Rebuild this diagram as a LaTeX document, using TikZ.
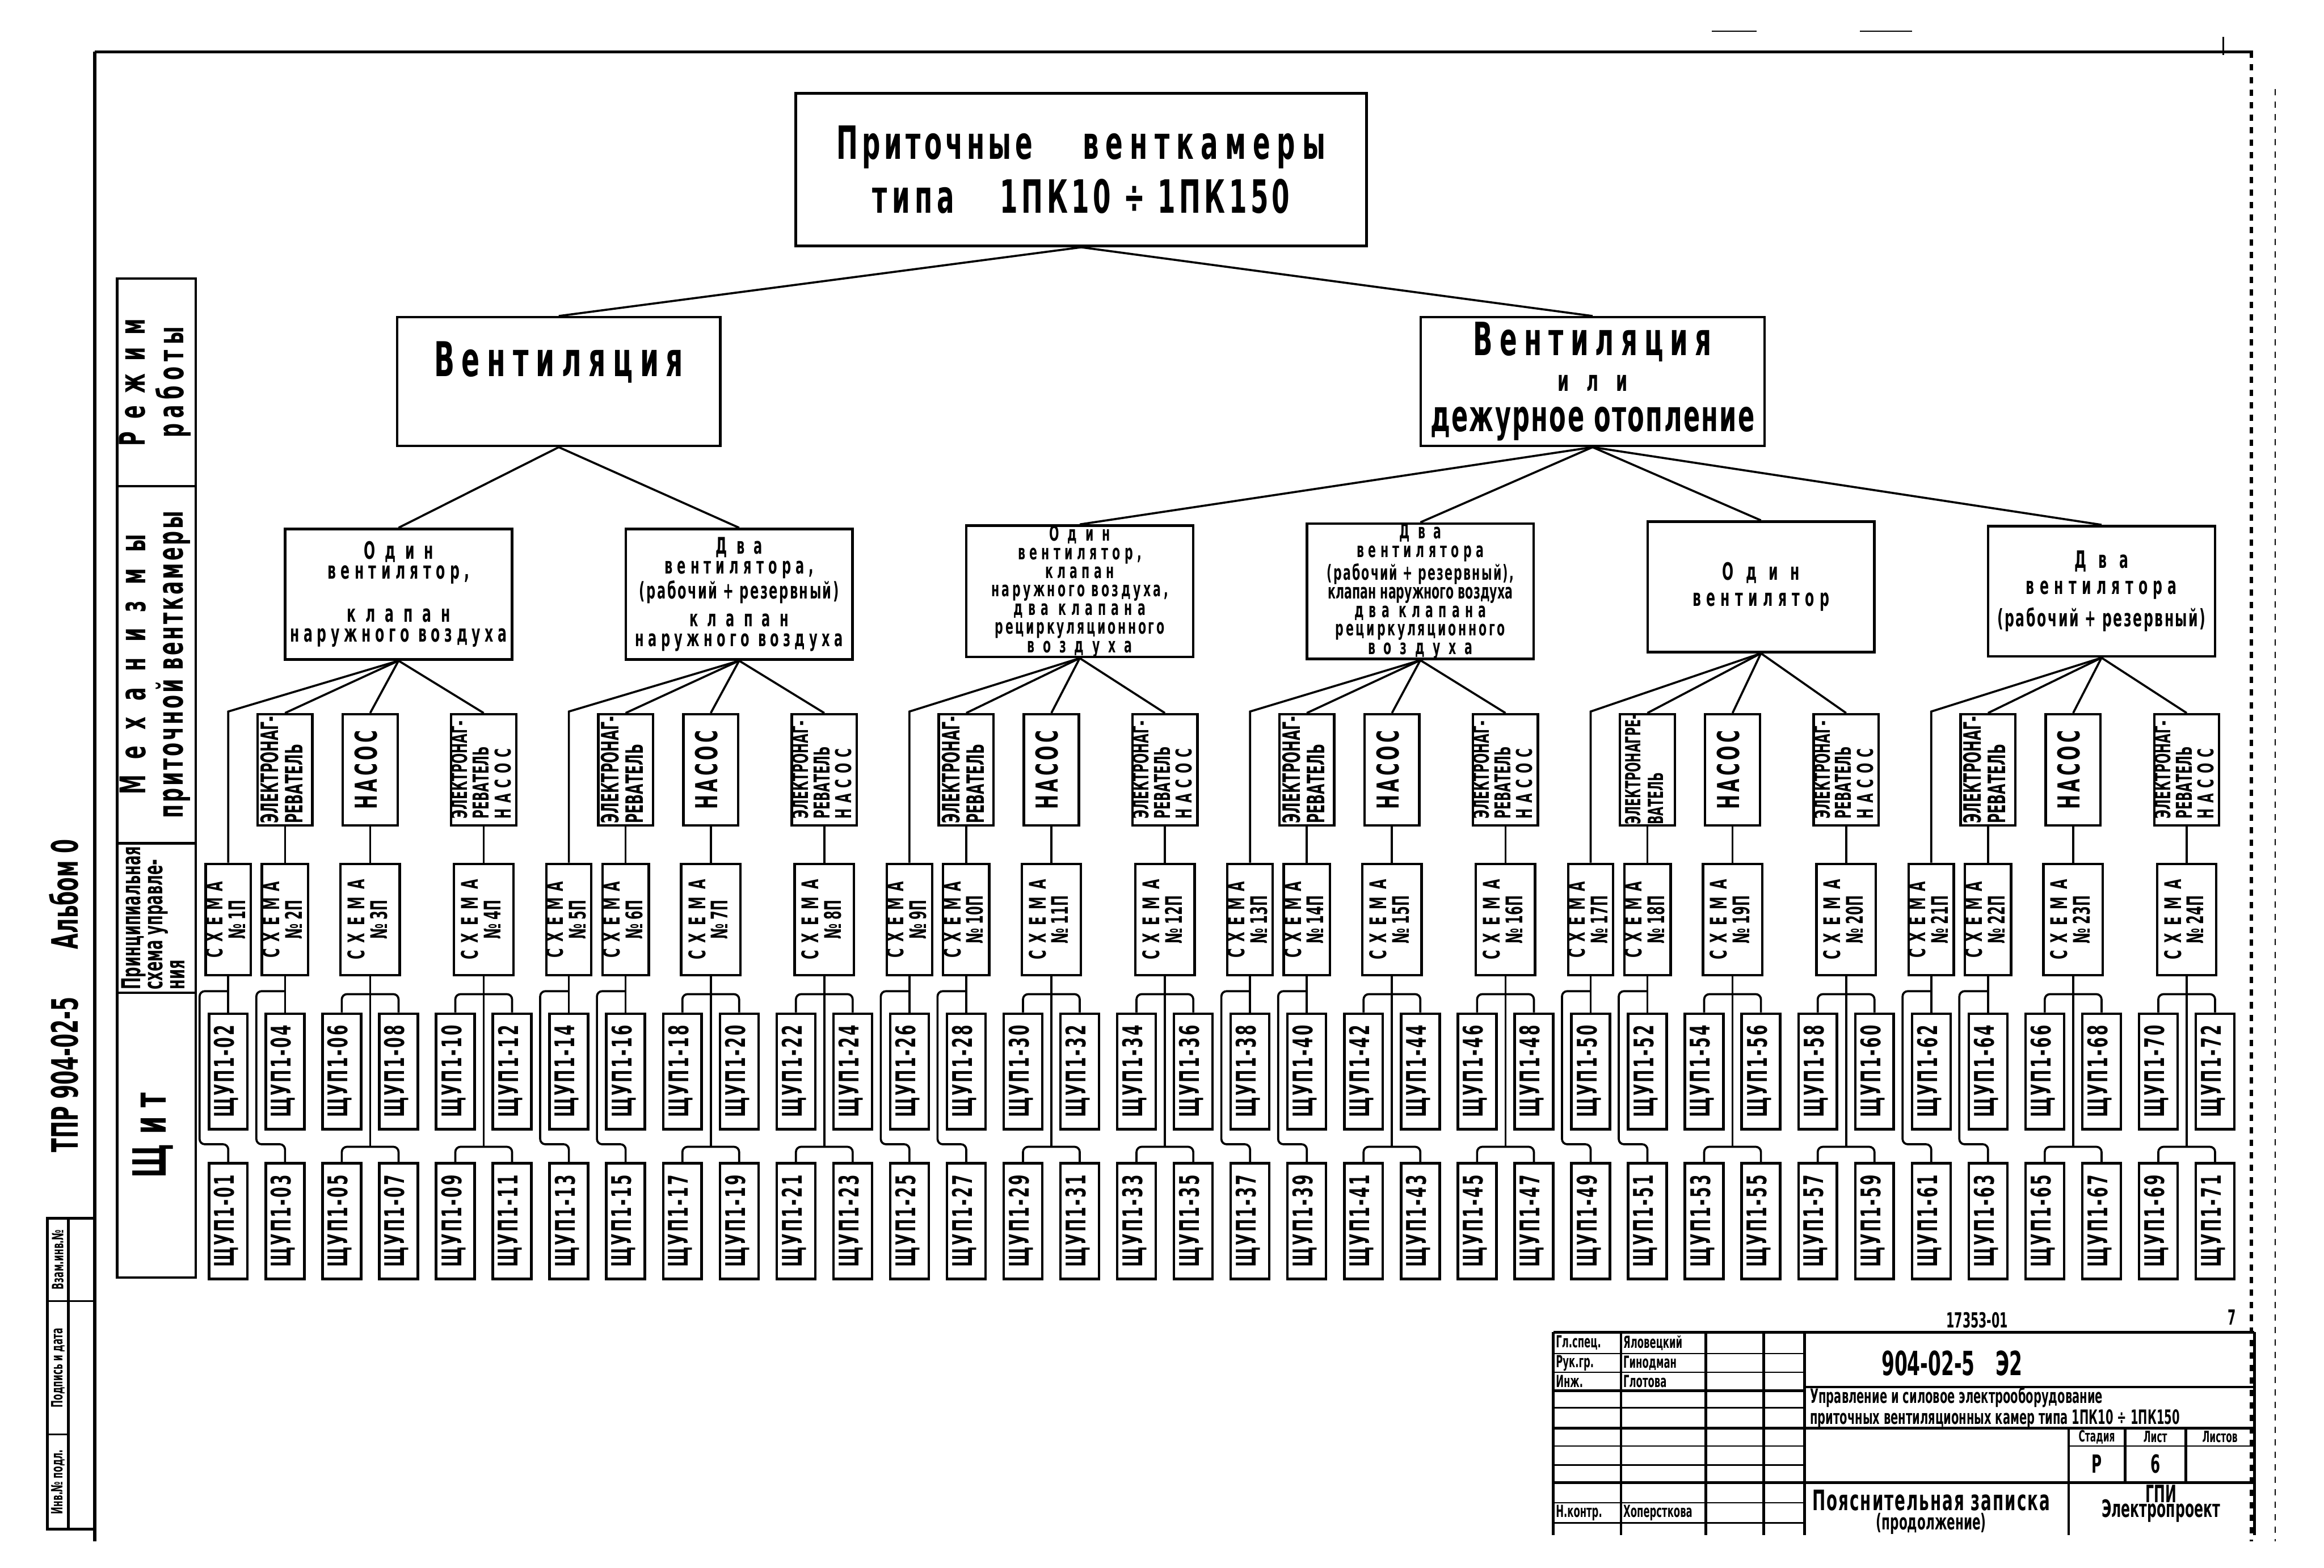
\documentclass[tikz,border=0pt]{standalone}
\usepackage{fontspec}
\setmainfont{DejaVu Sans}
\newfontfamily\drw[FakeStretch=0.56]{DejaVu Sans}
\usetikzlibrary{positioning, calc}

\newcommand\dfont[2]{\drw\bfseries\fontsize{#1}{#2}\selectfont}
\newcommand\lsp[2]{{\addfontfeature{LetterSpace=#1}#2}}
\newcommand\vtext[2][c]{\rotatebox{90}{\begin{tabular}{@{}#1@{}}#2\end{tabular}}}
\newcommand\two[1]{\ifnum#1<10 0\fi#1}

\begin{document}
\begin{tikzpicture}[x=0.025cm, y=-0.025cm,
  box/.style={draw, line width=1.2pt, inner sep=0pt, align=center},
  titlebox/.style={box, minimum width=9.625cm, minimum height=2.575cm, font=\dfont{22}{25.6}},
  modebox/.style={box, minimum height=2.17cm, font=\dfont{21}{15}},
  setbox/.style={box, minimum width=3.825cm, minimum height=2.2cm, font=\dfont{11.5}{9.6}},
  unitbox/.style={box, minimum width=0.925cm, minimum height=1.875cm, font=\dfont{11.5}{11}},
  schbox/.style={box, minimum width=0.7cm, minimum height=1.875cm, font=\dfont{11}{9}},
  shubox/.style={box, minimum width=0.65cm, minimum height=1.95cm,
                 font=\dfont{13}{13}\addfontfeature{LetterSpace=6}},
  hdrbox/.style={box, minimum width=1.325cm},
  wire/.style={line width=1pt},
  bus/.style={wire, rounded corners=2.5pt},
  frame/.style={line width=1.5pt},
  cell/.style={line width=0.7pt},
  cellb/.style={line width=1.3pt},
  txt/.style={inner sep=0pt, font=\dfont{#1}{#1}},
]
\useasboundingbox (0,0) rectangle (1568,1058);

% --- sheet frame ---
\draw[frame] (64,35) -- (1520,35);
\draw[frame] (64,35) -- (64,1040);
\draw[frame, dashed] (1519,35) -- (1519,1040);
\draw[cell, dashed] (1535,60) -- (1535,1040);
\draw[cell] (1500,25) -- (1500,37);
\draw[cell] (1155,21) -- (1185,21);
\draw[cell] (1255,21) -- (1290,21);

% --- binding strip ---
\node[txt=17.5] (album) at (43,672) {\rotatebox{90}{ТПР 904-02-5\hspace{23pt}Альбом 0}};
\draw[cellb] (32,822) rectangle (64,1032);
\draw[cellb] (46,822) -- (46,1032);
\draw[cell] (32,878) -- (64,878);
\draw[cell] (32,968) -- (46,968);
\node[txt=7.5] (zam) at (39,850) {\rotatebox{90}{Взам.инв.№}};
\node[txt=7.5] (podp) at (39,923) {\rotatebox{90}{Подпись и дата}};
\node[txt=7.5] (inv) at (39,1000) {\rotatebox{90}{Инв.№ подл.}};

% --- row headers ---
\node[hdrbox, minimum height=3.5cm, font=\dfont{17}{16.7}] (h1) at (105.5,258)
  {\vtext{\lsp{35}{Режим}\\\lsp{15}{работы}}};
\node[hdrbox, minimum height=6.025cm, font=\dfont{17}{16.7}] (h2) at (105.5,448.5)
  {\vtext{\lsp{45}{Механизмы}\\\lsp{6}{приточной венткамеры}}};
\node[hdrbox, minimum height=2.525cm, font=\dfont{12.5}{10.5}] (h3) at (105.5,619.5)
  {\vtext[l]{Принципиальная\\схема управле-\\ния}};
\node[hdrbox, minimum height=4.8cm, font=\dfont{22}{22}] (h4) at (105.5,766)
  {\vtext{\lsp{20}{Щит}}};

% --- level 1 and 2 ---
\node[titlebox] (top) at (729.5,114.5)
  {\lsp{8}{Приточные}\hspace{24pt}\lsp{15}{венткамеры}\\
   \lsp{10}{типа}\hspace{22pt}\lsp{8}{1ПК10 ÷ 1ПК150}};
\node[modebox, minimum width=5.45cm, font=\dfont{23}{23},
      text height=17pt, text depth=22pt] (v1) at (377,257.5) {\lsp{15}{Вентиляция}};
\node[modebox, minimum width=5.8cm] (v2) at (1074.5,257.5)
  {{\fontsize{22}{22}\selectfont\lsp{15}{Вентиляция}}\\[2pt]
   {\fontsize{14}{14}\selectfont\lsp{60}{или}}\\[4.5pt]
   \lsp{3}{дежурное отопление}};

% --- level 3: equipment sets ---
\node[setbox] (p0) at (268.9,401)
  {\lsp{40}{Один}\\\lsp{20}{вентилятор,}\\[11pt]\lsp{40}{клапан}\\\lsp{18}{наружного воздуха}};
\node[setbox, font=\dfont{11}{9.4}] (p1) at (498.7,401)
  {\lsp{40}{Два}\\\lsp{20}{вентилятора,}\\\lsp{6}{(рабочий + резервный)}\\[4pt]\lsp{40}{клапан}\\\lsp{18}{наружного воздуха}};
\node[setbox, font=\dfont{10}{8.9}] (p2) at (728.5,399)
  {\lsp{40}{Один}\\\lsp{20}{вентилятор,}\\\lsp{20}{клапан}\\\lsp{12}{наружного воздуха,}\\
   \lsp{25}{два клапана}\\\lsp{10}{рециркуляционного}\\\lsp{40}{воздуха}};
\node[setbox, font=\dfont{10}{8.9}] (p3) at (958.3,399)
  {\lsp{40}{Два}\\\lsp{20}{вентилятора}\\\lsp{6}{(рабочий + резервный),}\\клапан наружного воздуха\\
   \lsp{25}{два клапана}\\\lsp{10}{рециркуляционного}\\\lsp{40}{воздуха}};
\node[setbox] (p4) at (1188.1,396)
  {\lsp{50}{Один}\\[3pt]\lsp{22}{вентилятор}};
\node[setbox] (p5) at (1417.9,399)
  {\lsp{50}{Два}\\[3pt]\lsp{22}{вентилятора}\\[3pt]\lsp{6}{(рабочий + резервный)}};

% --- panels ---
\foreach \c in {1,...,36}{
  \pgfmathsetmacro\xc{154+(\c-1)*38.3}
  \pgfmathtruncatemacro\nU{2*\c}
  \pgfmathtruncatemacro\nL{2*\c-1}
  \node[shubox] (u\c) at (\xc,723) {\vtext{ЩУП1-\two{\nU}}};
  \node[shubox] (l\c) at (\xc,824) {\vtext{ЩУП1-\two{\nL}}};
}

% --- schemes, units and wiring per set ---
\foreach \g in {0,...,5}{
  \pgfmathtruncatemacro\cA{6*\g+1}
  \pgfmathtruncatemacro\cB{6*\g+2}
  \pgfmathtruncatemacro\cC{6*\g+3}
  \pgfmathtruncatemacro\cD{6*\g+4}
  \pgfmathtruncatemacro\cE{6*\g+5}
  \pgfmathtruncatemacro\cF{6*\g+6}
  \pgfmathtruncatemacro\sA{4*\g+1}
  \pgfmathtruncatemacro\sB{4*\g+2}
  \pgfmathtruncatemacro\sC{4*\g+3}
  \pgfmathtruncatemacro\sD{4*\g+4}
  \pgfmathsetmacro\xA{154+(\cA-1)*38.3}
  \pgfmathsetmacro\xB{154+(\cB-1)*38.3}
  \pgfmathsetmacro\xC{154+(\cC-0.5)*38.3}
  \pgfmathsetmacro\xE{154+(\cE-0.5)*38.3}
  \ifnum\g=4 \def\heater{ЭЛЕКТРОНАГРЕ-\\ВАТЕЛЬ}\def\hfs{10}%
  \else\def\heater{ЭЛЕКТРОНАГ-\\РЕВАТЕЛЬ}\def\hfs{11.5}\fi

  \node[schbox] (s\sA) at (\xA,620.5) {\vtext{\lsp{28}{СХЕМА}\\№\,\sA П}};
  \node[schbox, minimum width=0.78cm] (s\sB) at (\xB,620.5) {\vtext{\lsp{28}{СХЕМА}\\№\,\sB П}};
  \node[schbox, minimum width=1cm] (s\sC) at (\xC,620.5) {\vtext{\lsp{32}{СХЕМА}\\№\,\sC П}};
  \node[schbox, minimum width=1cm] (s\sD) at (\xE,620.5) {\vtext{\lsp{32}{СХЕМА}\\№\,\sD П}};

  \node[unitbox, font=\dfont{\hfs}{11}] (m\sB) at (\xB,519.5) {\vtext[l]{\heater}};
  \node[unitbox, font=\dfont{14.5}{14.5}] (m\sC) at (\xC,519.5) {\vtext{\lsp{10}{НАСОС}}};
  \node[unitbox, font=\dfont{10.5}{8.8}] (m\sD) at (\xE,519.5) {\vtext[l]{ЭЛЕКТРОНАГ-\\РЕВАТЕЛЬ\\\lsp{25}{НАСОС}}};

  % set -> units
  \draw[wire] (p\g.south) -- ($(s\sA.north)+(0,-102)$) -- (s\sA.north);
  \draw[wire] (p\g.south) -- (m\sB.north);
  \draw[wire] (p\g.south) -- (m\sC.north);
  \draw[wire] (p\g.south) -- (m\sD.north);
  \draw[wire] (m\sB.south) -- (s\sB.north);
  \draw[wire] (m\sC.south) -- (s\sC.north);
  \draw[wire] (m\sD.south) -- (s\sD.north);

  % schemes -> panels
  \draw[wire] (s\sA.south) -- (u\cA.north);
  \draw[bus] ($(s\sA.south)+(0,10)$) -| ($(u\cA.west)+(-5.5,0)$) |- ($(l\cA.north)+(0,-12)$) -- (l\cA.north);
  \draw[wire] (s\sB.south) -- (u\cB.north);
  \draw[bus] ($(s\sB.south)+(0,10)$) -| ($(u\cB.west)+(-5.5,0)$) |- ($(l\cB.north)+(0,-12)$) -- (l\cB.north);
  \draw[wire] (s\sC.south) -- ($(s\sC.south)+(0,115)$);
  \draw[bus] (u\cC.north) |- ($(s\sC.south)+(0,12)$) -| (u\cD.north);
  \draw[bus] (l\cC.north) |- ($(s\sC.south)+(0,115)$) -| (l\cD.north);
  \draw[wire] (s\sD.south) -- ($(s\sD.south)+(0,115)$);
  \draw[bus] (u\cE.north) |- ($(s\sD.south)+(0,12)$) -| (u\cF.north);
  \draw[bus] (l\cE.north) |- ($(s\sD.south)+(0,115)$) -| (l\cF.north);
}

% --- upper connectors ---
\draw[wire] (top.south) -- (v1.north);
\draw[wire] (top.south) -- (v2.north);
\draw[wire] (v1.south) -- (p0.north);
\draw[wire] (v1.south) -- (p1.north);
\draw[wire] (v2.south) -- (p2.north);
\draw[wire] (v2.south) -- (p3.north);
\draw[wire] (v2.south) -- (p4.north);
\draw[wire] (v2.south) -- (p5.north);

% --- title block ---
\node[txt=10] (arch) at (1334,891) {17353-01};
\node[txt=10] (pg) at (1506,889) {7};
\draw[cellb] (1048,899) -- (1521,899);
\draw[cellb] (1048,899) -- (1048,1036);
\draw[cellb] (1521,899) -- (1521,1036);
\foreach \xv in {1093.7,1151,1190,1217.5}
  \draw[cellb] (\xv,899) -- (\xv,1036);
\foreach \yv in {913.4,926,950,975.8,988.5,1014,1027.6}
  \draw[cell] (1048,\yv) -- (1217.5,\yv);
\draw[cellb] (1048,938.4) -- (1217.5,938.4);
\draw[cellb] (1217.5,936) -- (1521,936);
\draw[cellb] (1048,963.7) -- (1521,963.7);
\draw[cellb] (1048,1000.6) -- (1521,1000.6);
\draw[cellb] (1395.7,963.7) -- (1395.7,1036);
\draw[cellb] (1433.7,963.7) -- (1433.7,1000.6);
\draw[cellb] (1474.7,963.7) -- (1474.7,1000.6);
\draw[cell] (1395.7,975.8) -- (1521,975.8);

\node[txt=8, anchor=west] (r1a) at (1049.5,906.2) {Гл.спец.};
\node[txt=8, anchor=west] (r1b) at (1095,906.2) {Яловецкий};
\node[txt=8, anchor=west] (r2a) at (1049.5,919.7) {Рук.гр.};
\node[txt=8, anchor=west] (r2b) at (1095,919.7) {Гинодман};
\node[txt=8, anchor=west] (r3a) at (1049.5,932.2) {Инж.};
\node[txt=8, anchor=west] (r3b) at (1095,932.2) {Глотова};
\node[txt=8, anchor=west] (r4a) at (1049.5,1020.8) {Н.контр.};
\node[txt=8, anchor=west] (r4b) at (1095,1020.8) {Хоперсткова};

\node[txt=16] (code) at (1317,920) {904-02-5\hspace{10pt}Э2};
\node[anchor=west, align=left, inner sep=0pt, font=\dfont{9.5}{8.9}] (dtitle) at (1221,950)
  {Управление и силовое электрооборудование\\приточных вентиляционных камер типа 1ПК10 ÷ 1ПК150};
\node[txt=7.5] (stg) at (1414.7,969.7) {Стадия};
\node[txt=7.5] (lst) at (1454.2,969.7) {Лист};
\node[txt=7.5] (lsts) at (1497.8,969.7) {Листов};
\node[txt=12] (stgv) at (1414.7,988) {Р};
\node[txt=12] (lstv) at (1454.2,988) {6};
\node[txt=13.5] (note) at (1303,1012.5) {\lsp{4}{Пояснительная записка}};
\node[txt=10.5] (note2) at (1303,1028) {(продолжение)};
\node[txt=11.5] (org1) at (1458,1008) {ГПИ};
\node[txt=11.5] (org2) at (1458,1019.5) {Электропроект};

\end{tikzpicture}
\end{document}
